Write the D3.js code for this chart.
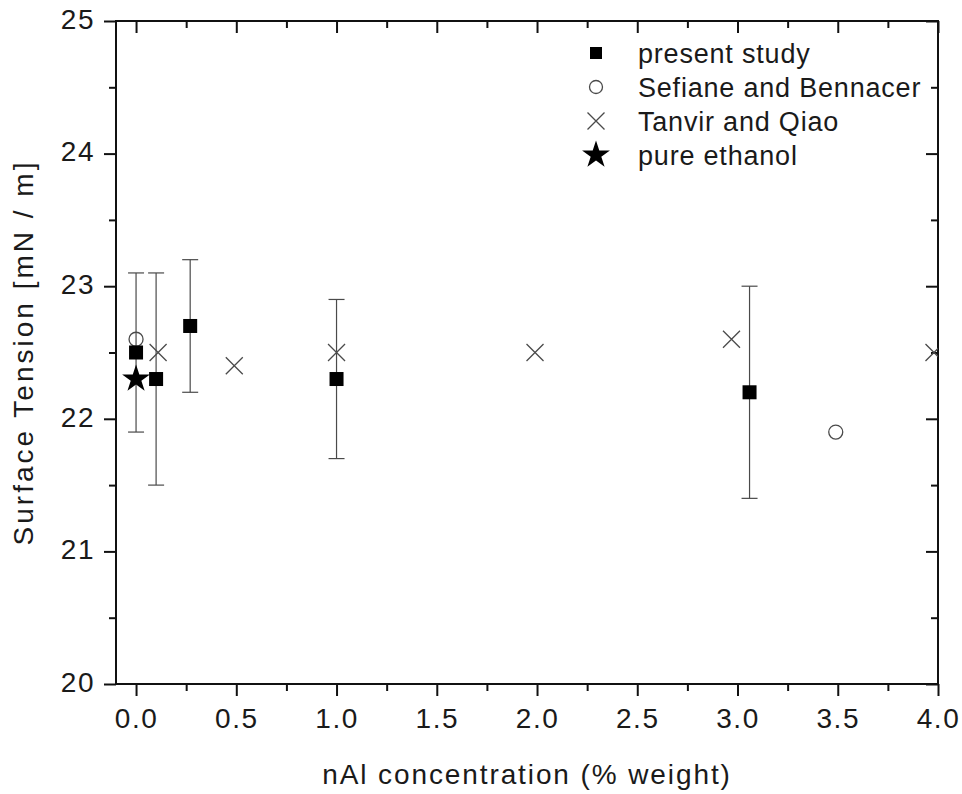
<!DOCTYPE html>
<html>
<head>
<meta charset="utf-8">
<script src="https://cdn.jsdelivr.net/npm/d3@7"></script>
<style>
  body { margin: 0; background: #fff; }
  text { font-family: "Liberation Sans", Arial, sans-serif; fill: #1a1a1a; }
</style>
</head>
<body>
<div id="chart"></div>
<script>
var width = 962;
var height = 794;

// present study (mean with error bars)
var studyX = [0.0, 0.1, 0.27, 1.0, 3.06];
var studyY = [22.5, 22.3, 22.7, 22.3, 22.2];
var studyLo = [21.9, 21.5, 22.2, 21.7, 21.4];
var studyHi = [23.1, 23.1, 23.2, 22.9, 23.0];

// Sefiane and Bennacer
var sefX = [0.0, 3.49];
var sefY = [22.6, 21.9];

// Tanvir and Qiao
var tanX = [0.11, 0.49, 1.0, 1.99, 2.97, 3.98];
var tanY = [22.5, 22.4, 22.5, 22.5, 22.6, 22.5];

// pure ethanol
var ethX = [0.0];
var ethY = [22.3];

var xTicks = [0.0, 0.5, 1.0, 1.5, 2.0, 2.5, 3.0, 3.5, 4.0];
var yTicks = [20, 21, 22, 23, 24, 25];
var legendNames = ["present study", "Sefiane and Bennacer", "Tanvir and Qiao", "pure ethanol"];

var margin = {left: 116, right: 24, top: 21, bottom: 110};

var svg = d3.select("#chart").append("svg")
    .attr("width", width)
    .attr("height", height);

var x = d3.scaleLinear()
    .domain([-0.1, 4.0])
    .range([margin.left, width - margin.right]);

var y = d3.scaleLinear()
    .domain([20, 25])
    .range([height - margin.bottom, margin.top]);

var x0 = x.range()[0], x1 = x.range()[1];
var y0 = y.range()[0], y1 = y.range()[1];

svg.append("clipPath").attr("id", "clip")
    .append("rect")
    .attr("x", x0).attr("y", y1)
    .attr("width", x1 - x0).attr("height", y0 - y1);

var minorX = d3.range(0.25, 4.0, 0.5);
var minorY = d3.range(20.5, 25, 1);

// bottom axis, outward ticks
var bottom = svg.append("g")
    .attr("transform", "translate(0," + y0 + ")")
    .call(d3.axisBottom(x).tickValues(xTicks).tickFormat(d3.format(".1f")).tickSize(12).tickPadding(12));
bottom.selectAll("text").style("font-size", "28px").style("letter-spacing", "1.5px");
svg.append("g")
    .attr("transform", "translate(0," + y0 + ")")
    .call(d3.axisBottom(x).tickValues(minorX).tickFormat("").tickSize(7));

// left axis, outward ticks
var left = svg.append("g")
    .attr("transform", "translate(" + x0 + ",0)")
    .call(d3.axisLeft(y).tickValues(yTicks).tickFormat(d3.format("d")).tickSize(12).tickPadding(9));
left.selectAll("text").style("font-size", "28px").style("letter-spacing", "1.5px").attr("dy", "0.26em");
svg.append("g")
    .attr("transform", "translate(" + x0 + ",0)")
    .call(d3.axisLeft(y).tickValues(minorY).tickFormat("").tickSize(7));

// top and right axes, inward ticks
svg.append("g")
    .attr("transform", "translate(0," + y1 + ")")
    .call(d3.axisBottom(x).tickValues(xTicks).tickFormat("").tickSize(12));
svg.append("g")
    .attr("transform", "translate(0," + y1 + ")")
    .call(d3.axisBottom(x).tickValues(minorX).tickFormat("").tickSize(7));
svg.append("g")
    .attr("transform", "translate(" + x1 + ",0)")
    .call(d3.axisLeft(y).tickValues(yTicks).tickFormat("").tickSize(12));
svg.append("g")
    .attr("transform", "translate(" + x1 + ",0)")
    .call(d3.axisLeft(y).tickValues(minorY).tickFormat("").tickSize(7));

svg.selectAll(".domain").remove();
svg.selectAll(".tick line").attr("stroke", "#111").attr("stroke-width", 2);

svg.append("rect")
    .attr("x", x0).attr("y", y1)
    .attr("width", x1 - x0).attr("height", y0 - y1)
    .attr("fill", "none")
    .attr("stroke", "#111")
    .attr("stroke-width", 2);

// axis titles
svg.append("text")
    .attr("x", (x0 + x1) / 2)
    .attr("y", 784)
    .attr("text-anchor", "middle")
    .style("font-size", "28px")
    .style("letter-spacing", "1.9px")
    .text("nAl concentration (% weight)");

svg.append("text")
    .attr("transform", "translate(33," + ((y0 + y1) / 2) + ") rotate(-90)")
    .attr("text-anchor", "middle")
    .style("font-size", "28px")
    .style("letter-spacing", "3px")
    .text("Surface Tension [mN / m]");

var plot = svg.append("g").attr("clip-path", "url(#clip)");

var grey = "#4a4a4a";
var star = d3.symbol().type(d3.symbolStar).size(240);
var cross = d3.symbol().type(d3.symbolX).size(190);

// error bars
var study = studyX.map(function (d, i) {
    return {x: d, y: studyY[i], lo: studyLo[i], hi: studyHi[i]};
});
var eb = plot.selectAll(".eb").data(study).enter().append("g").attr("class", "eb");
eb.append("line")
    .attr("x1", function (d) { return x(d.x); })
    .attr("x2", function (d) { return x(d.x); })
    .attr("y1", function (d) { return y(d.lo); })
    .attr("y2", function (d) { return y(d.hi); })
    .attr("stroke", grey).attr("stroke-width", 1.2);
["lo", "hi"].forEach(function (k) {
    eb.append("line")
        .attr("x1", function (d) { return x(d.x) - 8; })
        .attr("x2", function (d) { return x(d.x) + 8; })
        .attr("y1", function (d) { return y(d[k]); })
        .attr("y2", function (d) { return y(d[k]); })
        .attr("stroke", grey).attr("stroke-width", 1.2);
});

// Sefiane and Bennacer
plot.selectAll(".sef").data(sefX).enter().append("circle")
    .attr("class", "sef")
    .attr("cx", function (d) { return x(d); })
    .attr("cy", function (d, i) { return y(sefY[i]); })
    .attr("r", 7)
    .attr("fill", "none")
    .attr("stroke", grey)
    .attr("stroke-width", 1.3);

// Tanvir and Qiao
plot.selectAll(".tan").data(tanX).enter().append("path")
    .attr("class", "tan")
    .attr("d", cross)
    .attr("transform", function (d, i) { return "translate(" + x(d) + "," + y(tanY[i]) + ")"; })
    .attr("fill", "none")
    .attr("stroke", grey)
    .attr("stroke-width", 1.3);

// present study squares
plot.selectAll(".sq").data(study).enter().append("rect")
    .attr("class", "sq")
    .attr("x", function (d) { return x(d.x) - 7; })
    .attr("y", function (d) { return y(d.y) - 7; })
    .attr("width", 14).attr("height", 14)
    .attr("fill", "#000");

// pure ethanol
plot.selectAll(".eth").data(ethX).enter().append("path")
    .attr("class", "eth")
    .attr("d", star)
    .attr("transform", function (d, i) { return "translate(" + x(d) + "," + y(ethY[i]) + ")"; })
    .attr("fill", "#000");

// legend
var legend = svg.append("g").attr("transform", "translate(596,53)");
legendNames.forEach(function (name, i) {
    var row = legend.append("g").attr("transform", "translate(0," + (i * 34) + ")");
    if (i === 0) {
        row.append("rect").attr("x", -6).attr("y", -6).attr("width", 12).attr("height", 12).attr("fill", "#000");
    } else if (i === 1) {
        row.append("circle").attr("r", 6.5).attr("fill", "none").attr("stroke", grey).attr("stroke-width", 1.3);
    } else if (i === 2) {
        row.append("path").attr("d", cross).attr("fill", "none").attr("stroke", grey).attr("stroke-width", 1.3);
    } else {
        row.append("path").attr("d", star).attr("fill", "#000");
    }
    row.append("text")
        .attr("x", 42)
        .attr("y", 10)
        .style("font-size", "27px")
        .style("letter-spacing", "0.8px")
        .text(name);
});
</script>
</body>
</html>
